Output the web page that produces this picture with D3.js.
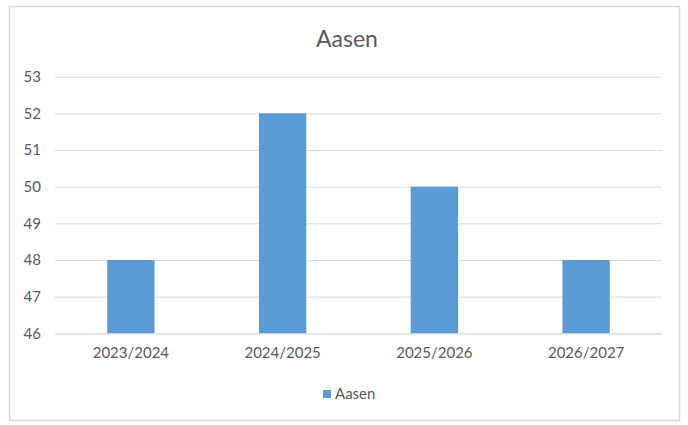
<!DOCTYPE html>
<html><head><meta charset="utf-8">
<script src="https://cdn.jsdelivr.net/npm/d3@7"></script>
<style>body{margin:0;background:#fff}svg{display:block}</style>
</head><body>
<svg id="c" width="688" height="425"></svg>
<script>
const title = "Aasen";
const categories = ["2023/2024","2024/2025","2025/2026","2026/2027"];
const values = [48, 52, 50, 48];
const yTicks = [46,47,48,49,50,51,52,53];
const seriesName = "Aasen";

const svg = d3.select("#c");
const W = 688, H = 425;
const m = {left:55, right:26, top:76.7, bottom:91.7};
const font = "Lato, 'Open Sans', sans-serif";
const txt = "#595959";

svg.append("rect").attr("x",9.5).attr("y",6.5).attr("width",670).attr("height",414)
  .attr("fill","#fff").attr("stroke","#d9d9d9").attr("stroke-width",1.5);

const x = d3.scaleBand().domain(categories).range([m.left, W-m.right]).paddingInner(0.688).paddingOuter(0.344);
const y = d3.scaleLinear().domain([46,53]).range([H-m.bottom, m.top]);

// gridlines
const yAxis = d3.axisLeft(y).tickValues(yTicks).tickSize(-(W-m.left-m.right)).tickPadding(14).tickFormat(d3.format("d"));
const gy = svg.append("g").attr("transform",`translate(${m.left},0)`).call(yAxis);
gy.select(".domain").remove();
gy.selectAll(".tick line").attr("stroke","#d9d9d9").attr("stroke-width",1);
gy.selectAll(".tick text").attr("fill",txt).style("font-family",font).style("font-size","15px");

// bars
svg.append("g").selectAll("rect").data(values).join("rect")
  .attr("x",(d,i)=>x(categories[i]))
  .attr("width",x.bandwidth())
  .attr("y",d=>y(d))
  .attr("height",d=>y(46)-y(d))
  .attr("fill","#5b9bd5");

// x axis
const xAxis = d3.axisBottom(x).tickSize(0).tickPadding(14);
const gx = svg.append("g").attr("transform",`translate(0,${y(46)})`).call(xAxis);
gx.select(".domain").attr("stroke","#d9d9d9");
gx.selectAll(".tick text").attr("fill",txt).style("font-family",font).style("font-size","15px");

// title
svg.append("text").attr("x",347).attr("y",47).attr("text-anchor","middle")
  .attr("fill",txt).style("font-family",font).style("font-size","23px").text(title);

// legend
const lg = svg.append("g");
lg.append("rect").attr("x",323).attr("y",390).attr("width",8).attr("height",8).attr("fill","#5b9bd5");
lg.append("text").attr("x",335).attr("y",399).attr("fill",txt).style("font-family",font).style("font-size","15px").text(seriesName);
</script>
</body></html>
